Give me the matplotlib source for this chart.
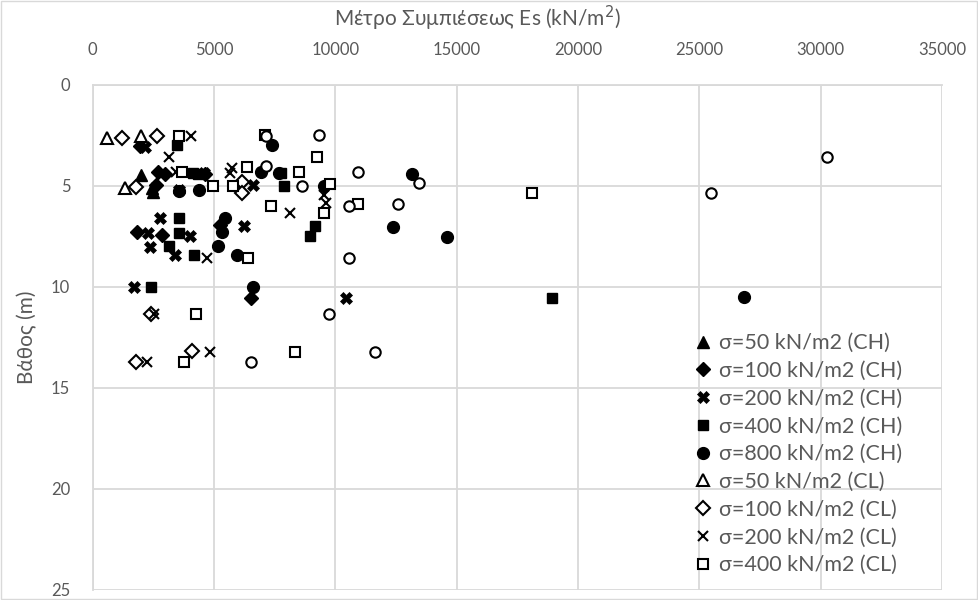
import matplotlib
matplotlib.use("Agg")
import matplotlib.pyplot as plt

plt.rcParams['font.family'] = ['Lato', 'DejaVu Sans']

# σ=50 kN/m2 (CH) - filled triangle
ch50_x = [2000, 2450, 2500]
ch50_y = [4.45, 5.1, 5.3]
# σ=100 kN/m2 (CH) - filled diamond
ch100_x = [1950, 2700, 3000, 4650, 2600, 1850, 2850, 5250, 6550]
ch100_y = [3.05, 4.3, 4.4, 4.4, 4.95, 7.3, 7.45, 6.95, 10.55]
# σ=200 kN/m2 (CH) - filled X
ch200_x = [2150, 3550, 6600, 2800, 6250, 4000, 2300, 2350, 3400, 1700, 10450, 4600]
ch200_y = [3.1, 5.2, 4.95, 6.6, 7.0, 7.5, 7.35, 8.05, 8.45, 10.0, 10.55, 4.35]
# σ=400 kN/m2 (CH) - filled square
ch400_x = [3500, 4150, 4350, 7750, 7900, 3550, 3550, 3150, 4200, 9150, 8950, 2400, 18950]
ch400_y = [3.0, 4.35, 4.4, 4.35, 5.0, 6.6, 7.35, 8.0, 8.45, 7.0, 7.5, 10.0, 10.55]
# σ=800 kN/m2 (CH) - filled circle
ch800_x = [7400, 6950, 7700, 9550, 3550, 4400, 5450, 5350, 5150, 5950, 6600, 13150, 12400, 14600, 26850]
ch800_y = [3.0, 4.3, 4.35, 5.0, 5.25, 5.2, 6.6, 7.3, 8.0, 8.45, 10.0, 4.4, 7.05, 7.55, 10.5]
# σ=50 kN/m2 (CL) - open triangle
cl50_x = [600, 2000, 1350]
cl50_y = [2.65, 2.55, 5.1]
# σ=100 kN/m2 (CL) - open diamond
cl100_x = [1200, 2650, 1800, 6150, 6150, 2400, 4100, 1800]
cl100_y = [2.65, 2.55, 5.05, 4.8, 5.35, 11.35, 13.2, 13.75]
# σ=200 kN/m2 (CL) - x
cl200_x = [4050, 3150, 3450, 5750, 5650, 9550, 9600, 8150, 4700, 2550, 4850, 2250]
cl200_y = [2.55, 3.6, 4.3, 4.1, 4.35, 5.45, 5.85, 6.35, 8.6, 11.35, 13.25, 13.75]
# σ=400 kN/m2 (CL) - open square
cl400_x = [3550, 7100, 9250, 6350, 3700, 8500, 4950, 5800, 9800, 7350, 9550, 10950, 6400, 18100, 4250, 8350, 3750]
cl400_y = [2.55, 2.5, 3.6, 4.05, 4.3, 4.3, 5.0, 5.0, 4.9, 6.0, 6.35, 5.9, 8.6, 5.35, 11.35, 13.25, 13.75]
# σ=800 kN/m2 (CL) - open circle (not shown in legend)
cl800_x = [7150, 9350, 7150, 10950, 8650, 13450, 10550, 12600, 25500, 30250, 10550, 9750, 11650, 6550]
cl800_y = [2.55, 2.5, 4.0, 4.3, 5.0, 4.85, 6.0, 5.9, 5.35, 3.6, 8.6, 11.35, 13.25, 13.75]

labels = ["σ=50 kN/m2 (CH)", "σ=100 kN/m2 (CH)", "σ=200 kN/m2 (CH)", "σ=400 kN/m2 (CH)",
          "σ=800 kN/m2 (CH)", "σ=50 kN/m2 (CL)", "σ=100 kN/m2 (CL)", "σ=200 kN/m2 (CL)",
          "σ=400 kN/m2 (CL)", "σ=800 kN/m2 (CL)"]
x_ticks = [0, 5000, 10000, 15000, 20000, 25000, 30000, 35000]
y_ticks = [0, 5, 10, 15, 20, 25]

fig = plt.figure(figsize=(9.79, 6.0), dpi=100)
ax = fig.add_axes([0.0945, 0.0172, 0.8677, 0.8416])

series = [
    (ch50_x, ch50_y, '^', 'black', 8.5, 1.0),
    (ch100_x, ch100_y, 'D', 'black', 7.0, 1.0),
    (ch200_x, ch200_y, 'X', 'black', 8.5, 0.5),
    (ch400_x, ch400_y, 's', 'black', 7.5, 1.0),
    (ch800_x, ch800_y, 'o', 'black', 8.5, 1.0),
    (cl50_x, cl50_y, '^', 'white', 8.5, 1.5),
    (cl100_x, cl100_y, 'D', 'white', 7.0, 1.5),
    (cl200_x, cl200_y, 'x', 'none', 7.5, 1.5),
    (cl400_x, cl400_y, 's', 'white', 7.5, 1.5),
    (cl800_x, cl800_y, 'o', 'white', 7.5, 1.5),
]

handles = []
for i, (xs, ys, m, fc, ms, mew) in enumerate(series):
    h, = ax.plot(xs, ys, linestyle='none', marker=m, markersize=ms,
                 markerfacecolor=fc, markeredgecolor='black', markeredgewidth=mew,
                 label=labels[i], zorder=3)
    handles.append(h)

ax.set_xlim(0, 35000)
ax.set_ylim(25, 0)
ax.set_xticks(x_ticks)
ax.set_yticks(y_ticks)
ax.xaxis.tick_top()
ax.xaxis.set_label_position('top')
ax.tick_params(axis='both', length=0, labelsize=12, labelcolor='#595959')
ax.tick_params(axis='x', pad=19)
ax.tick_params(axis='y', pad=16)
ax.grid(True, color='#d9d9d9', linewidth=1.3, zorder=0)
ax.set_axisbelow(True)
for s in ['top', 'right', 'bottom']:
    ax.spines[s].set_visible(False)
ax.spines['left'].set_color('#d9d9d9')
ax.spines['left'].set_linewidth(1.3)
ax.spines['top'].set_visible(True)
ax.spines['top'].set_color('#d9d9d9')
ax.spines['top'].set_linewidth(1.3)

ax.set_xlabel("Μέτρο Συμπιέσεως Es (kN/m$^2$)", fontsize=15, color='#595959', labelpad=11)
ax.xaxis.set_label_coords(0.453, 1.102)
ax.xaxis.label.set_verticalalignment('bottom')
ax.set_ylabel("Βάθος (m)", fontsize=15, color='#595959', labelpad=10)

leg = ax.legend(handles=handles[:9], loc='upper left', bbox_to_anchor=(0.7085, 0.508),
                frameon=False, fontsize=15.5, labelcolor='#595959', handlelength=0.8,
                handletextpad=0.33, labelspacing=0.36, borderaxespad=0, borderpad=0)

fig.patches.append(plt.Rectangle((0.001, 0.001), 0.997, 0.997, transform=fig.transFigure,
                                 fill=False, edgecolor='#d9d9d9', linewidth=1.0))

fig.savefig('out.png', dpi=100)
